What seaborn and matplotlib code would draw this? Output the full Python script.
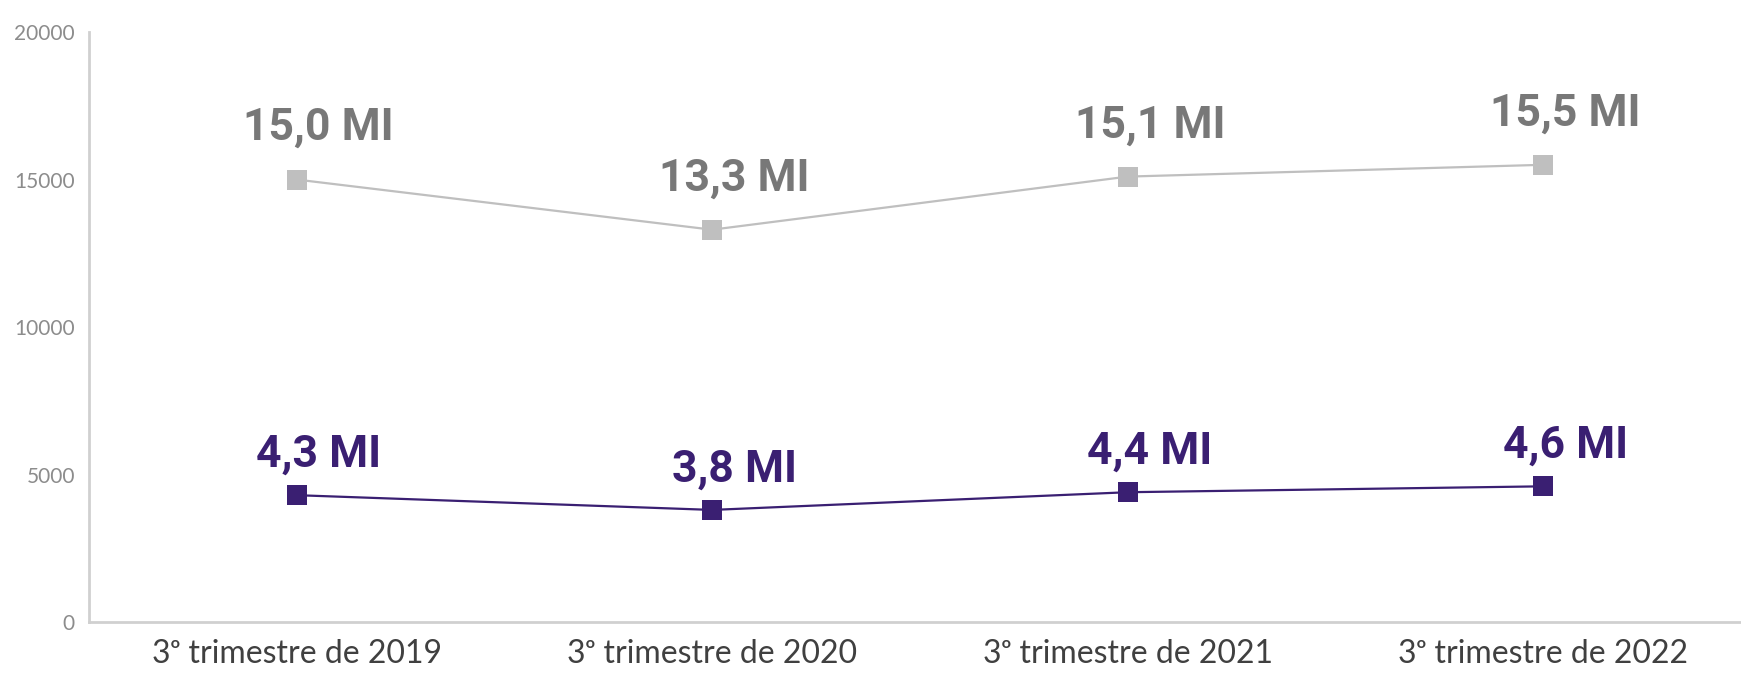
import pandas as pd
import matplotlib.pyplot as plt
import seaborn as sns

sns.set_style('white')
plt.rcParams['font.family'] = ['Lato', 'DejaVu Sans']

quarters = ['3ᵒ trimestre de 2019', '3ᵒ trimestre de 2020',
            '3ᵒ trimestre de 2021', '3ᵒ trimestre de 2022']
total = [15000, 13300, 15100, 15500]
grupo = [4300, 3800, 4400, 4600]

gray = '#bfbfbf'
gray_txt = '#787878'
purple = '#3a1f72'

df = pd.DataFrame({
    'Trimestre': quarters * 2,
    'Valor': total + grupo,
    'Serie': ['total'] * 4 + ['grupo'] * 4,
})

fig = plt.figure(figsize=(17.41, 6.75), dpi=100)
ax = fig.add_axes([0.051, 0.0785, 0.9547, 0.874])

sns.lineplot(data=df, x='Trimestre', y='Valor', hue='Serie',
             palette={'total': gray, 'grupo': purple},
             marker='s', markersize=14, markeredgewidth=0, linewidth=1.6,
             legend=False, ax=ax)

# rotulos dos pontos
for vals, col, dy in [(total, gray_txt, 37), (grupo, purple, 29)]:
    for i, v in enumerate(vals):
        txt = f'{v / 1000:.1f} MI'.replace('.', ',')
        ax.annotate(txt, (i, v), xytext=(16, dy), textcoords='offset points',
                    ha='center', va='center', fontsize=32, fontweight='bold',
                    color=col, family='Roboto')

ax.set_xlim(-0.5, 3.5)
ax.set_ylim(0, 20000)
ax.set_yticks([0, 5000, 10000, 15000, 20000])
ax.set_xlabel('')
ax.set_ylabel('')
ax.grid(False)

for s in ['top', 'right']:
    ax.spines[s].set_visible(False)
for s in ['left', 'bottom']:
    ax.spines[s].set_color('#d0d0d0')
    ax.spines[s].set_linewidth(2)

ax.set_xticks([0.5, 1.5, 2.5], minor=True)
ax.tick_params(axis='x', which='major', length=0, pad=12, labelsize=23, labelcolor='#404040')
ax.tick_params(axis='x', which='minor', direction='in', length=10, width=1.5, color='#d0d0d0')
ax.tick_params(axis='y', direction='in', length=29.5, width=1.5, color='#d0d0d0',
               pad=10, labelsize=15, labelcolor='#8c8c8c')

fig.savefig('out.png', dpi=100)
